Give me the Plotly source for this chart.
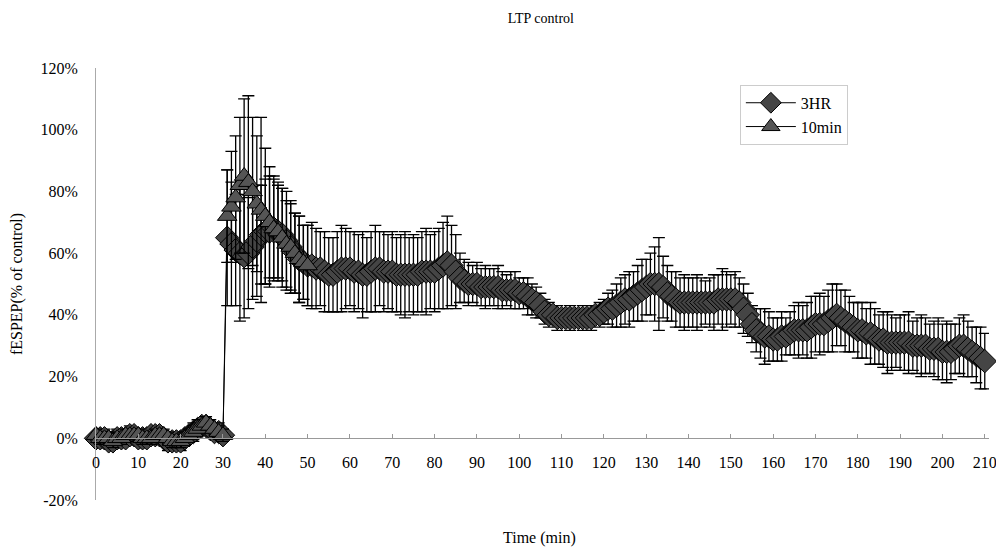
import plotly.graph_objects as go

# ---- data ----
time_3hr = list(range(0, 211))
mean_3hr = [
    0, 0, 0, -1, -1, 0, 0, 0, 1, 1,
    0, 0, 0, 1, 1, 1, 0, -1, -1, -1,
    -1, 0, 1, 2, 3, 4, 4, 3, 2, 2, 1,
    65, 63, 61, 60, 59, 60, 62, 64, 66, 67,
    67, 68, 67, 66, 64, 62, 60, 58, 57, 56,
    56, 55, 55, 54, 53, 53, 54, 55, 55, 55,
    54, 54, 53, 53, 54, 55, 55, 54, 54, 54,
    53, 53, 53, 53, 53, 53, 54, 54, 54, 54,
    55, 56, 57, 56, 54, 52, 51, 50, 50, 50,
    49, 49, 49, 49, 49, 48, 48, 48, 48, 47,
    47, 46, 45, 44, 43, 41, 40, 40, 39, 39,
    39, 39, 39, 39, 39, 39, 39, 40, 40, 41,
    42, 42, 43, 44, 45, 45, 46, 47, 48, 49,
    50, 50, 50, 49, 47, 46, 45, 44, 44, 44,
    44, 44, 44, 44, 44, 44, 45, 45, 45, 45,
    45, 44, 42, 40, 37, 35, 34, 33, 33, 32,
    32, 33, 33, 34, 35, 35, 35, 35, 36, 37,
    37, 37, 38, 39, 40, 39, 38, 37, 36, 35,
    35, 34, 34, 33, 32, 32, 31, 31, 31, 31,
    31, 31, 30, 30, 30, 30, 29, 29, 29, 28,
    28, 28, 29, 30, 30, 29, 28, 27, 26, 25,
]
sem_3hr = [
    2, 2, 3, 2, 2, 3, 2, 2, 3, 2,
    2, 3, 2, 2, 3, 2, 2, 3, 2, 2,
    3, 2, 2, 3, 3, 2, 3, 2, 2, 3, 2,
    22, 20, 18, 22, 20, 18, 17, 18, 16, 17,
    18, 17, 16, 15, 16, 14, 13, 14, 12, 13,
    14, 13, 12, 13, 12, 12, 13, 14, 13, 12,
    13, 12, 14, 12, 13, 14, 12, 13, 12, 13,
    12, 13, 14, 12, 13, 12, 13, 14, 12, 13,
    13, 14, 15, 13, 12, 8, 7, 7, 6, 7,
    6, 7, 6, 6, 7, 6, 5, 6, 6, 5,
    5, 6, 5, 5, 4, 4, 4, 3, 4, 3,
    3, 4, 3, 3, 4, 3, 4, 3, 4, 4,
    5, 6, 7, 8, 8, 9, 8, 9, 10, 9,
    10, 12, 15, 10, 9, 8, 9, 8, 9, 8,
    8, 9, 8, 7, 8, 9, 8, 10, 9, 8,
    9, 8, 8, 7, 6, 7, 8, 9, 8, 7,
    7, 8, 6, 7, 8, 9, 8, 9, 10, 9,
    10, 9, 10, 11, 10, 9, 10, 9, 8, 9,
    9, 8, 10, 9, 8, 9, 10, 9, 8, 9,
    9, 10, 8, 9, 10, 9, 8, 9, 10, 9,
    10, 9, 8, 9, 10, 9, 8, 9, 10, 9,
]

time_10min = list(range(0, 51))
mean_10min = [
    1, 0, 0, 0, -1, 0, 0, 1, 1, 1,
    1, 0, 0, 0, 1, 1, 1, 0, -1, -1,
    -1, 0, 1, 2, 3, 4, 5, 4, 3, 2, 1,
    72, 75, 78, 82, 85, 83, 80, 76, 74, 72,
    70, 68, 67, 65, 63, 62, 60, 58, 57, 56,
]
sem_10min = [
    2, 2, 2, 2, 2, 2, 2, 2, 2, 2,
    2, 2, 2, 2, 2, 2, 2, 2, 2, 2,
    2, 2, 2, 2, 2, 2, 2, 2, 2, 2, 2,
    15, 18, 20, 22, 25, 28, 24, 22, 30, 22,
    18, 16, 15, 16, 14, 15, 13, 14, 12, 13,
]

x_ticks = list(range(0, 211, 10))
y_ticks = [-20, 0, 20, 40, 60, 80, 100, 120]
y_tick_text = [f"{v}%" for v in y_ticks]

FONT = "Liberation Serif"

fig = go.Figure()
fig.add_trace(go.Scatter(
    x=time_3hr, y=mean_3hr, name="3HR", mode="lines+markers",
    line=dict(color="black", width=1),
    marker=dict(symbol="diamond", size=18, color="#454545",
                line=dict(color="black", width=1)),
    error_y=dict(type="data", array=sem_3hr, visible=True,
                 color="black", thickness=1.3, width=6),
    cliponaxis=False,
))
fig.add_trace(go.Scatter(
    x=time_10min, y=mean_10min, name="10min", mode="lines+markers",
    line=dict(color="black", width=1),
    marker=dict(symbol="triangle-up", size=17, color="#555555",
                line=dict(color="black", width=1)),
    error_y=dict(type="data", array=sem_10min, visible=True,
                 color="black", thickness=1.3, width=6),
    cliponaxis=False,
))

fig.update_layout(
    width=996, height=543,
    margin=dict(l=88, r=15, t=60, b=51),
    paper_bgcolor="white", plot_bgcolor="white",
    font=dict(family=FONT, size=16, color="black"),
    title=dict(text="LTP control", x=0.535, xanchor="center",
               y=0.9816, yanchor="middle", font=dict(size=14, family=FONT)),
    showlegend=True,
    legend=dict(x=0.721, y=0.961, xanchor="left", yanchor="top",
                bgcolor="white", bordercolor="#cccccc", borderwidth=1,
                font=dict(size=16, family=FONT), itemwidth=50,
                tracegroupgap=4),
    xaxis=dict(range=[0, 211], tickvals=x_ticks, showgrid=False,
               zeroline=False, showline=True, linecolor="#999999",
               linewidth=1, ticks="inside", ticklen=4, tickcolor="#999999",
               anchor="free", position=20 / 140, ticklabelstandoff=10,
               automargin=False,
               tickfont=dict(size=16, family=FONT)),
    yaxis=dict(range=[-20, 120], tickvals=y_ticks, ticktext=y_tick_text,
               showgrid=False, zeroline=False, showline=True,
               linecolor="#aaaaaa", linewidth=1, ticks="",
               ticklabelstandoff=14, automargin=False,
               title=dict(text="fESPEP(% of control)", standoff=14,
                          font=dict(size=16, family=FONT)),
               tickfont=dict(size=16, family=FONT)),
    annotations=[dict(text="Time (min)", xref="paper", yref="paper",
                      x=0.497, y=-0.088, xanchor="center", yanchor="middle",
                      showarrow=False, font=dict(size=16, family=FONT))],
)

fig.write_html("out.html")
